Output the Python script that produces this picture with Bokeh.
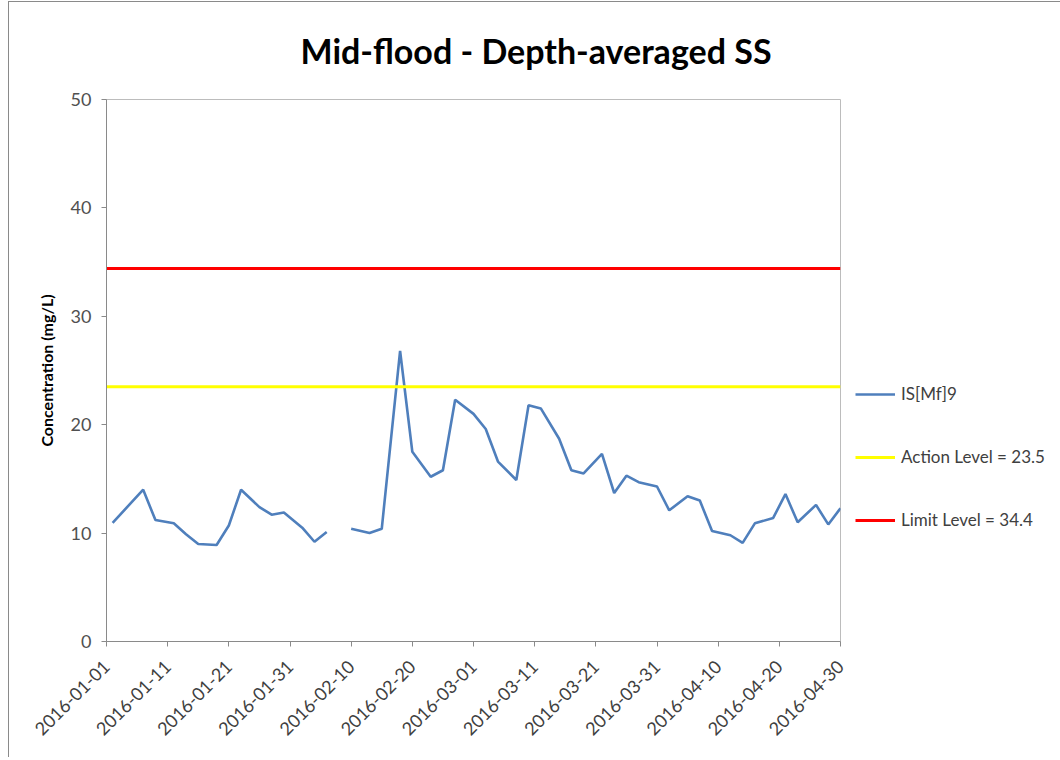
import math
import pandas as pd
from bokeh.plotting import figure
from bokeh.models import (FixedTicker, DatetimeTickFormatter, Range1d, Legend,
                          LegendItem, ColumnDataSource)
from bokeh.embed import file_html
from bokeh.resources import INLINE

# ---------------- data ----------------
dates = ["2016-01-02", "2016-01-07", "2016-01-09", "2016-01-12", "2016-01-14",
         "2016-01-16", "2016-01-19", "2016-01-21", "2016-01-23", "2016-01-26",
         "2016-01-28", "2016-01-30", "2016-02-02", "2016-02-04", "2016-02-06",
         "2016-02-08",
         "2016-02-10", "2016-02-13", "2016-02-15", "2016-02-18", "2016-02-20",
         "2016-02-23", "2016-02-25", "2016-02-27", "2016-03-01", "2016-03-03",
         "2016-03-05", "2016-03-08", "2016-03-10", "2016-03-12", "2016-03-15",
         "2016-03-17", "2016-03-19", "2016-03-22", "2016-03-24", "2016-03-26",
         "2016-03-28", "2016-03-31", "2016-04-02", "2016-04-05", "2016-04-07",
         "2016-04-09", "2016-04-12", "2016-04-14", "2016-04-16", "2016-04-19",
         "2016-04-21", "2016-04-23", "2016-04-26", "2016-04-28", "2016-04-30"]
values = [10.95, 14.0, 11.2, 10.9, 9.9,
          9.0, 8.9, 10.7, 14.0, 12.4,
          11.7, 11.9, 10.5, 9.2, 10.1,
          float("nan"),
          10.4, 10.0, 10.4, 26.8, 17.5,
          15.2, 15.8, 22.3, 21.0, 19.6,
          16.6, 14.9, 21.8, 21.5, 18.7,
          15.8, 15.5, 17.3, 13.7, 15.3,
          14.7, 14.3, 12.1, 13.4, 13.0,
          10.2, 9.8, 9.1, 10.9, 11.4,
          13.6, 11.0, 12.6, 10.8, 12.3]
series_name = "IS[Mf]9"
action_level = 23.5
limit_level = 34.4
x_start, x_end = "2016-01-01", "2016-04-30"
tick_dates = ["2016-01-01", "2016-01-11", "2016-01-21", "2016-01-31",
              "2016-02-10", "2016-02-20", "2016-03-01", "2016-03-11",
              "2016-03-21", "2016-03-31", "2016-04-10", "2016-04-20",
              "2016-04-30"]
y_ticks = [0, 10, 20, 30, 40, 50]
title_text = "Mid-flood - Depth-averaged SS"
y_label = "Concentration (mg/L)"

# ---------------- figure ----------------
FONT = "Lato"
xs = pd.to_datetime(pd.Series(dates))
x0 = pd.Timestamp(x_start)
x1 = pd.Timestamp(x_end)

p = figure(frame_width=734, frame_height=542, output_backend="svg", toolbar_location=None,
           x_axis_type="datetime",
           x_range=Range1d(x0, x1), y_range=Range1d(0, 50),
           min_border_left=97, min_border_top=97, min_border_right=217,
           min_border_bottom=116)
p.styles = {"margin-left": "8px", "margin-top": "1px",
            "border-left": "1px solid #8a8a8a", "border-top": "1px solid #8a8a8a"}
p.background_fill_color = "white"
p.border_fill_color = "white"
p.outline_line_color = "#bcbcbc"
p.outline_line_width = 1
p.xgrid.visible = False
p.ygrid.visible = False

src = ColumnDataSource(dict(x=xs, y=values))
r_series = p.line("x", "y", source=src, line_color="#4f7fbc", line_width=2.6)
lvl_x = [x0, x1]
r_action = p.line(lvl_x, [action_level, action_level], line_color="#ffff00", line_width=3)
r_limit = p.line(lvl_x, [limit_level, limit_level], line_color="#ff0000", line_width=3)

# axes
xa = p.xaxis[0]
xa.ticker = FixedTicker(ticks=[pd.Timestamp(d).value / 1e6 for d in tick_dates])
xa.formatter = DatetimeTickFormatter(days="%Y-%m-%d", months="%Y-%m-%d", years="%Y-%m-%d")
xa.major_label_orientation = math.pi / 4
xa.major_label_text_font = FONT
xa.major_label_text_font_size = "18px"
xa.major_label_text_color = "#404040"
xa.axis_line_color = "#8a8a8a"
xa.major_tick_line_color = "#8a8a8a"
xa.major_tick_out = 5
xa.major_tick_in = 0
xa.minor_tick_line_color = None
xa.major_label_standoff = 17

ya = p.yaxis[0]
ya.ticker = FixedTicker(ticks=y_ticks)
ya.major_label_text_font = FONT
ya.major_label_text_font_size = "18px"
ya.major_label_text_color = "#505050"
ya.axis_line_color = "#8a8a8a"
ya.major_tick_line_color = "#8a8a8a"
ya.major_tick_out = 5
ya.major_tick_in = 0
ya.minor_tick_line_color = None
ya.major_label_standoff = 10
ya.axis_label = y_label
ya.axis_label_text_font = FONT
ya.axis_label_text_font_size = "16px"
ya.axis_label_text_font_style = "bold"
ya.axis_label_text_color = "black"
ya.axis_label_standoff = 12

# title
p.title.text = title_text
p.title.align = "left"
p.title.offset = 194
p.title.vertical_align = "top"
p.title.text_font = FONT
p.title.text_font_size = "34px"
p.title.text_font_style = "bold"
p.title.text_color = "black"
p.title.standoff = 54

legend = Legend(items=[LegendItem(label=series_name, renderers=[r_series]),
                       LegendItem(label=f"Action Level = {action_level}", renderers=[r_action]),
                       LegendItem(label=f"Limit Level = {limit_level}", renderers=[r_limit])],
                location=(15, 111), glyph_width=40, glyph_height=20, label_height=20,
                label_standoff=6, spacing=42, padding=0, margin=0,
                border_line_alpha=0, background_fill_alpha=0,
                label_text_font=FONT, label_text_font_size="17px",
                label_text_color="#404040")
p.add_layout(legend, "right")

open("out.html", "w").write(file_html(p, INLINE))
